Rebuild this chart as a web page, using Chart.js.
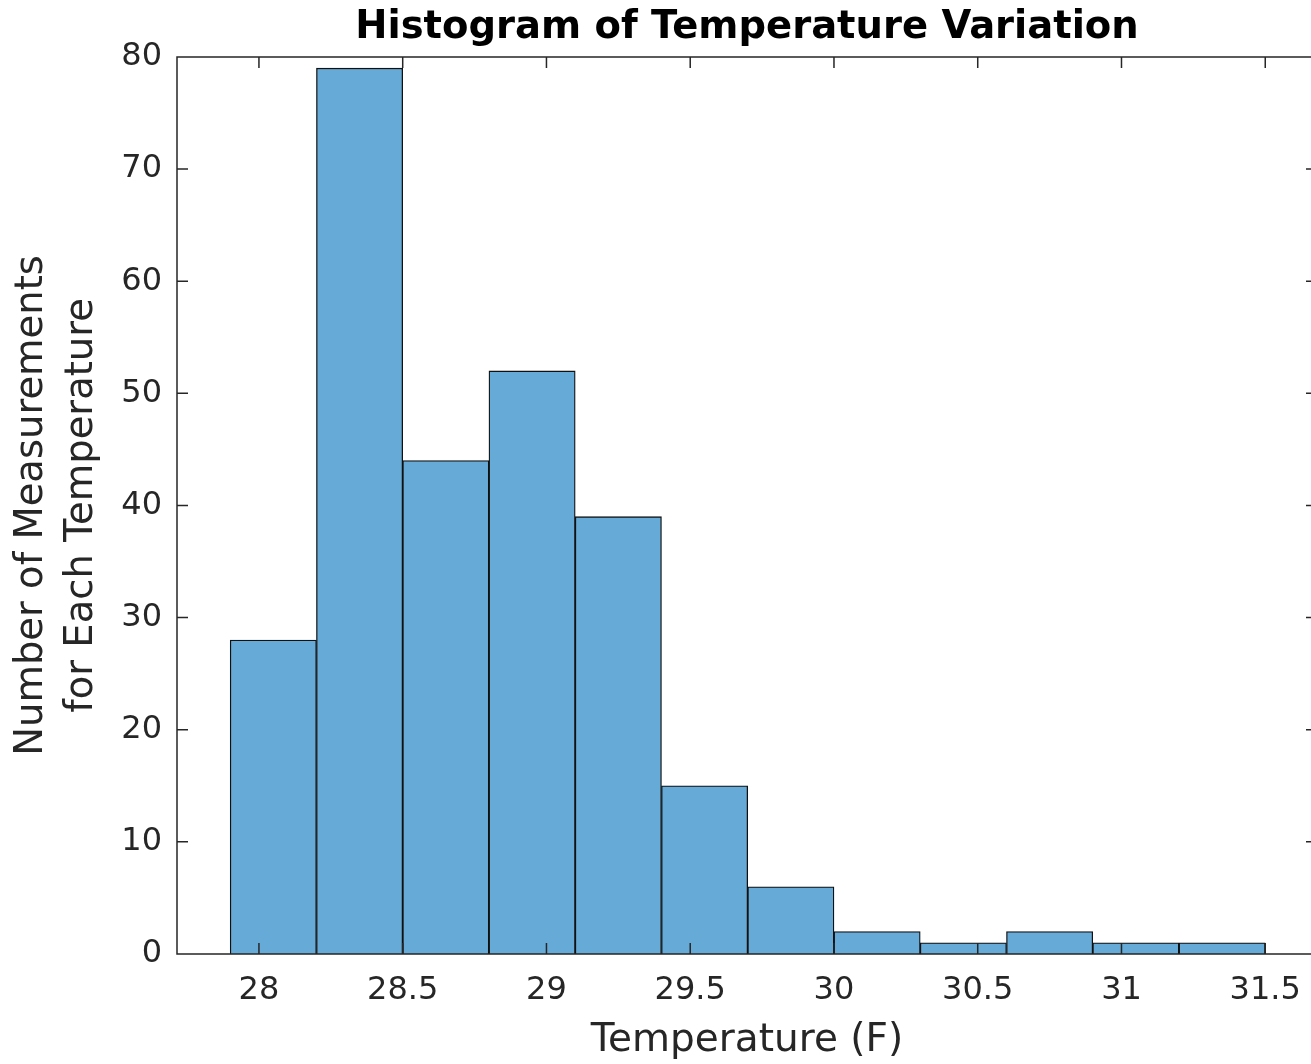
<!DOCTYPE html>
<html>
<head>
<meta charset="utf-8">
<script src="https://cdn.jsdelivr.net/npm/chart.js@4/dist/chart.umd.min.js"></script>
<style>
  html, body { margin: 0; padding: 0; background: #fff; overflow: hidden; }
  #wrap { width: 1320px; height: 1064px; }
</style>
</head>
<body>
<div id="wrap"><canvas id="histChart"></canvas></div>
<script>
// histogram bins (degrees F) and counts
const binEdges = [27.9, 28.2, 28.5, 28.8, 29.1, 29.4, 29.7, 30.0, 30.3, 30.6, 30.9, 31.2, 31.5];
const binCounts = [28, 79, 44, 52, 39, 15, 6, 2, 1, 2, 1, 1];
const xTicks = [28, 28.5, 29, 29.5, 30, 30.5, 31, 31.5];
const yTicks = [0, 10, 20, 30, 40, 50, 60, 70, 80];

const axisColor = '#262626';
const fontFamily = '"DejaVu Sans", sans-serif';
const tickLen = 11;

const points = binCounts.map((c, i) => ({ x: (binEdges[i] + binEdges[i + 1]) / 2, y: c }));

// MATLAB style box with inward ticks on all four sides
const boxTicks = {
    id: 'boxTicks',
    afterDatasetsDraw(chart) {
        const { ctx, chartArea: a, scales: { x, y } } = chart;
        ctx.save();
        ctx.strokeStyle = axisColor;
        ctx.lineWidth = 1.5;
        ctx.beginPath();
        ctx.rect(a.left, a.top, a.right - a.left, a.bottom - a.top);
        x.ticks.forEach(t => {
            const px = x.getPixelForValue(t.value);
            ctx.moveTo(px, a.bottom); ctx.lineTo(px, a.bottom - tickLen);
            ctx.moveTo(px, a.top); ctx.lineTo(px, a.top + tickLen);
        });
        y.ticks.forEach(t => {
            const py = y.getPixelForValue(t.value);
            ctx.moveTo(a.left, py); ctx.lineTo(a.left + tickLen, py);
            ctx.moveTo(a.right, py); ctx.lineTo(a.right - tickLen, py);
        });
        ctx.stroke();
        ctx.restore();
    }
};

const ctx = document.getElementById('histChart').getContext('2d');
new Chart(ctx, {
    type: 'bar',
    data: {
        datasets: [{
            label: 'Counts',
            data: points,
            backgroundColor: 'rgb(102, 170, 215)',
            borderColor: '#111111',
            borderWidth: 1.3,
            borderSkipped: 'start',
            barPercentage: 1,
            categoryPercentage: 1
        }]
    },
    options: {
        responsive: true,
        maintainAspectRatio: false,
        animation: false,
        layout: { padding: { left: 0, right: 3, top: 0, bottom: 0 } },
        plugins: {
            legend: { display: false },
            tooltip: { enabled: false },
            title: {
                display: true,
                text: 'Histogram of Temperature Variation',
                fullSize: false,
                color: '#000',
                font: { family: fontFamily, size: 38.5, weight: 'bold', lineHeight: 1.1 },
                padding: { top: 7, bottom: 7.6 }
            }
        },
        scales: {
            x: {
                type: 'linear',
                offset: false,
                min: 27.715,
                max: 31.68,
                afterBuildTicks: s => { s.ticks = xTicks.map(v => ({ value: v })); },
                afterFit: s => { s.height = 110; },
                grid: { display: false, drawTicks: false, offset: false },
                border: { display: false },
                ticks: {
                    color: axisColor,
                    padding: 17,
                    maxRotation: 0,
                    autoSkip: false,
                    font: { family: fontFamily, size: 32 },
                    callback: v => String(v)
                },
                title: {
                    display: true,
                    text: 'Temperature (F)',
                    color: axisColor,
                    font: { family: fontFamily, size: 39, lineHeight: 1.0 },
                    padding: { top: 0, bottom: 4 }
                }
            },
            y: {
                min: 0,
                max: 80,
                afterBuildTicks: s => { s.ticks = yTicks.map(v => ({ value: v })); },
                afterFit: s => { s.width = 177; },
                grid: { display: false, drawTicks: false },
                border: { display: false },
                ticks: {
                    color: axisColor,
                    padding: 15,
                    font: { family: fontFamily, size: 32 }
                },
                title: {
                    display: true,
                    text: ['Number of Measurements', 'for Each Temperature'],
                    color: axisColor,
                    font: { family: fontFamily, size: 38.5, lineHeight: 1.3 },
                    padding: { top: 7, bottom: 0 }
                }
            }
        }
    },
    plugins: [boxTicks]
});
</script>
</body>
</html>
